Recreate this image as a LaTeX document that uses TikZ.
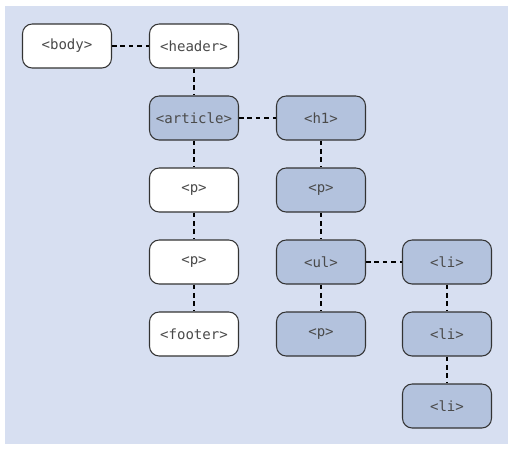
\documentclass[tikz,border=0pt]{standalone}
\usepackage{fontspec}
\setmonofont{DejaVu Sans Mono}
\usepackage{xcolor}
\definecolor{panel}{HTML}{D7DFF1}
\definecolor{boxdark}{HTML}{B3C2DD}
\definecolor{tagtext}{HTML}{4A4A4A}

\begin{document}
\begin{tikzpicture}[x=0.02cm,y=-0.02cm,
  tag/.style={rectangle, rounded corners=5.5pt, draw=black!80, line width=0.6pt,
              minimum width=1.78cm, minimum height=0.88cm,
              font=\ttfamily\fontsize{8}{9}\selectfont, text=tagtext},
  plain/.style={tag, fill=white},
  inner/.style={tag, fill=boxdark},
  link/.style={dashed, dash pattern=on 2.6pt off 2.2pt, line width=0.7pt}]
\useasboundingbox (0,0) rectangle (515,451);
\fill[panel] (5,6) rectangle (508,444);
% left branch
\node[plain] (body) at (67,46){<body>};
\node[plain] (header) at (194,46){<header>};
\node[inner] (article) at (194,118){<article>};
\node[plain] (p1) at (194,190){<p>};
\node[plain] (p2) at (194,262){<p>};
\node[plain] (footer) at (194,334){<footer>};
% article content
\node[inner] (h1) at (321,118){<h1>};
\node[inner] (p3) at (321,190){<p>};
\node[inner] (ul) at (321,262){<ul>};
\node[inner] (p4) at (321,334){<p>};
% list items
\node[inner] (li1) at (447,262){<li>};
\node[inner] (li2) at (447,334){<li>};
\node[inner] (li3) at (447,406){<li>};
\draw[link] (body) -- (header);
\draw[link] (article) -- (h1);
\draw[link] (ul) -- (li1);
\foreach \a/\b in {header/article, article/p1, p1/p2, p2/footer,
                   h1/p3, p3/ul, ul/p4, li1/li2, li2/li3}{
	\draw[link] (\a) -- (\b);
	}
\end{tikzpicture}
\end{document}
